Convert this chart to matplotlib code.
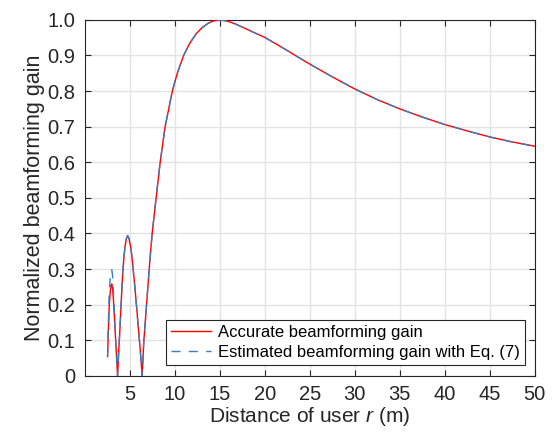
import matplotlib
matplotlib.use('Agg')
import matplotlib.pyplot as plt

# Data
r = [2.56, 2.65, 2.74, 2.85, 2.95, 3.03, 3.12, 3.22, 3.35, 3.5, 3.67,
     3.8, 3.93, 4.08, 4.22, 4.35, 4.48, 4.62, 4.78, 4.95, 5.1, 5.22, 5.4,
     5.59, 5.78, 5.96, 6.18, 6.4, 6.59, 6.89, 7.18, 7.51, 7.95, 8.4, 8.95,
     9.75, 10.3, 11.0, 11.7, 12.4, 13.0, 13.7, 14.3, 15.0, 15.8,
     16.7, 17.5, 18.5, 20, 21.5, 22.5, 24, 25, 27.5, 30, 32.5, 35, 37.5,
     40, 42.5, 45, 47.5, 50]

gain_accurate = [0.054, 0.13, 0.195, 0.235, 0.255, 0.258, 0.245, 0.21, 0.15,
                 0.08, 0.0, 0.07, 0.13, 0.21, 0.28, 0.325, 0.36, 0.383, 0.394,
                 0.385, 0.365, 0.345, 0.30, 0.25, 0.195, 0.14, 0.075, 0.0,
                 0.1, 0.2, 0.3, 0.4, 0.5, 0.6, 0.7, 0.8, 0.85, 0.9,
                 0.935, 0.961, 0.977, 0.99, 0.997, 1.0, 0.997, 0.989, 0.98,
                 0.968, 0.951, 0.929, 0.914, 0.891, 0.876, 0.840, 0.806, 0.776,
                 0.750, 0.727, 0.706, 0.688, 0.671, 0.657, 0.645]

gain_estimated = [0.054, 0.15, 0.23, 0.275, 0.295, 0.298, 0.28, 0.235, 0.16,
                  0.08, 0.0, 0.07, 0.13, 0.21, 0.28, 0.325, 0.36, 0.383, 0.394,
                  0.385, 0.365, 0.345, 0.30, 0.25, 0.195, 0.14, 0.075, 0.0,
                  0.1, 0.2, 0.3, 0.4, 0.5, 0.6, 0.7, 0.8, 0.85, 0.9,
                  0.935, 0.961, 0.977, 0.99, 0.997, 1.0, 0.997, 0.989, 0.98,
                  0.968, 0.951, 0.929, 0.914, 0.891, 0.876, 0.840, 0.806, 0.776,
                  0.750, 0.727, 0.706, 0.688, 0.671, 0.657, 0.645]

x_ticks = [5, 10, 15, 20, 25, 30, 35, 40, 45, 50]
y_ticks = [0, 0.1, 0.2, 0.3, 0.4, 0.5, 0.6, 0.7, 0.8, 0.9, 1.0]
y_tick_labels = ['0', '0.1', '0.2', '0.3', '0.4', '0.5', '0.6', '0.7', '0.8', '0.9', '1.0']

plt.rcParams['font.family'] = ['Liberation Sans', 'DejaVu Sans']
plt.rcParams['mathtext.fontset'] = 'custom'
plt.rcParams['mathtext.it'] = 'Liberation Sans:italic'
plt.rcParams['mathtext.rm'] = 'Liberation Sans'

fig = plt.figure(figsize=(5.56, 4.32), dpi=100)
ax = fig.add_axes([0.152, 0.130, 0.810, 0.824])

ax.plot(r, gain_accurate, color='red', linewidth=1.0,
        label='Accurate beamforming gain', zorder=3)
ax.plot(r, gain_estimated, color='#3a7cc2', linewidth=1.0, dashes=(6.5, 6),
        label='Estimated beamforming gain with Eq. (7)', zorder=4)

ax.set_xlim(0, 50)
ax.set_ylim(0, 1)
ax.set_xticks(x_ticks)
ax.set_yticks(y_ticks)
ax.set_yticklabels(y_tick_labels)
ax.tick_params(direction='in', top=True, right=True, labelsize=14.5,
               length=4, width=0.8, colors='#262626')
ax.tick_params(axis='x', pad=6.5)
ax.tick_params(axis='y', pad=6.5)
ax.grid(True, color='#e3e3e3', linewidth=1.0)
ax.set_axisbelow(True)
for s in ax.spines.values():
    s.set_color('#262626')
    s.set_linewidth(0.8)

ax.set_xlabel('Distance of user $\\it{r}$ (m)', fontsize=15, color='#262626', labelpad=1)
ax.set_ylabel('Normalized beamforming gain', fontsize=15.5, color='#262626', labelpad=2)

leg = ax.legend(loc='lower right', bbox_to_anchor=(0.978, 0.031), fontsize=12,
                fancybox=False, edgecolor='#262626', framealpha=1,
                handlelength=2.4, borderpad=0.3, labelspacing=0.3,
                handletextpad=0.4, borderaxespad=0)
leg.get_frame().set_linewidth(0.8)

fig.savefig('out.png', dpi=100)
